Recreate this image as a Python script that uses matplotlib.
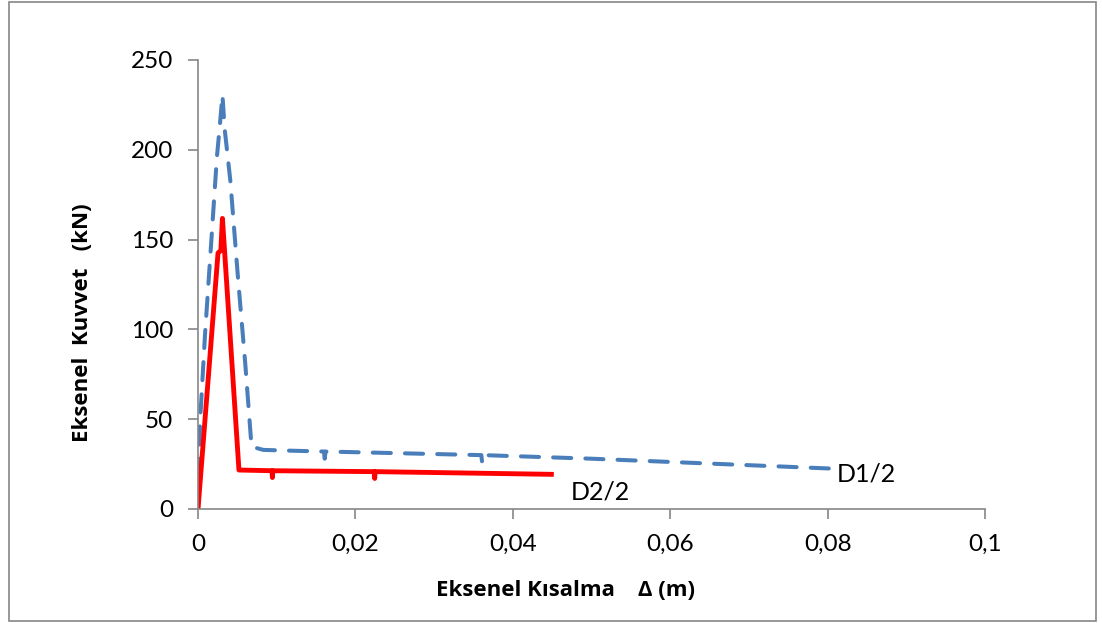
import numpy as np
import matplotlib.pyplot as plt
from matplotlib.patches import Rectangle

plt.rcParams['font.family'] = ['Lato', 'DejaVu Sans']

# D1/2 (blue dashed)
d1_x = [0, 0.00025, 0.0009, 0.0017, 0.0024, 0.0028, 0.0031, 0.0034, 0.0041, 0.0051,
        0.0060, 0.0068, 0.0083, 0.0115, 0.016, 0.0161, 0.0162, 0.036, 0.0361, 0.0362,
        0.050, 0.0805]
d1_y = [0, 48, 98, 150, 196, 215, 230.5, 211, 183, 127.5,
        81, 34.7, 32.9, 32.5, 32, 28, 32, 30, 26, 30,
        28, 22.5]

# D2/2 (red solid)
d2_x = [0, 0.00254, 0.0029, 0.0031, 0.0052, 0.0094, 0.00945, 0.0095, 0.0224, 0.02245,
        0.0225, 0.0449]
d2_y = [0, 142.5, 144, 161.8, 21.7, 21.3, 17.5, 21.3, 20.8, 17, 20.8, 19.3]

xticks = [0, 0.02, 0.04, 0.06, 0.08, 0.1]
xtick_labels = ['0', '0,02', '0,04', '0,06', '0,08', '0,1']
yticks = [0, 50, 100, 150, 200, 250]

fig = plt.figure(figsize=(11.02, 6.23), dpi=100)
ax = fig.add_axes([0.1797, 0.183, 0.7141, 0.7207])

ax.plot(d1_x, d1_y, color='#4a7ebb', linewidth=2.9, linestyle=(0, (4.5, 3.5)),
        dash_capstyle='round')
ax.plot(d2_x, d2_y, color='#ff0000', linewidth=3.5)

ax.text(0.0812, 19.5, 'D1/2', fontsize=18, va='center', ha='left')
ax.text(0.0474, 9.5, 'D2/2', fontsize=18, va='center', ha='left')

ax.set_xlim(0, 0.1)
ax.set_ylim(0, 250)
ax.set_xticks(xticks)
ax.set_xticklabels(xtick_labels)
ax.set_yticks(yticks)
ax.tick_params(labelsize=17.5, color='#868686', length=7, width=1.2, pad=11)

for s in ['top', 'right']:
    ax.spines[s].set_visible(False)
for s in ['left', 'bottom']:
    ax.spines[s].set_color('#868686')
    ax.spines[s].set_linewidth(1.2)

# axis titles placed as in the reference (y title sits below centre)
fig.text(565 / 1102, 1 - 590 / 623, 'Eksenel Kısalma    Δ (m)', fontsize=16,
         fontweight='bold', family=['Open Sans', 'DejaVu Sans'], ha='center', va='center')
fig.text(82 / 1102, 1 - 323 / 623, 'Eksenel  Kuvvet   (kN)', fontsize=16,
         fontweight='bold', family=['Open Sans', 'DejaVu Sans'], rotation=90,
         ha='center', va='center')

fig.patches.append(Rectangle((0.008, 0.004), 0.987, 0.992, transform=fig.transFigure,
                             fill=False, edgecolor='#868686', linewidth=1.2))

fig.savefig('out.png', dpi=100)
